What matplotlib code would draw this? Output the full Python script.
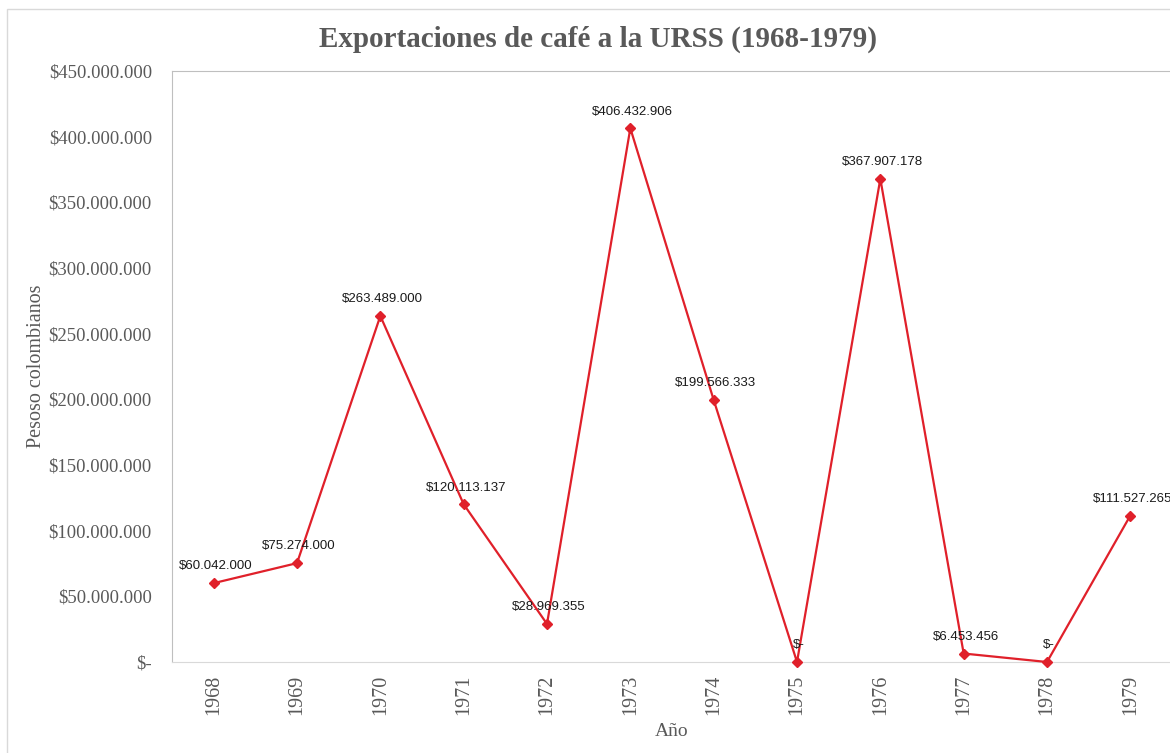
import matplotlib.pyplot as plt
from matplotlib.patches import Rectangle
from matplotlib.ticker import FuncFormatter

# datos
anios = ["1968", "1969", "1970", "1971", "1972", "1973",
         "1974", "1975", "1976", "1977", "1978", "1979"]
valores = [60042000, 75274000, 263489000, 120113137, 28969355, 406432906,
           199566333, 0, 367907178, 6453456, 0, 111527265]
ticks_y = [0, 50e6, 100e6, 150e6, 200e6, 250e6, 300e6, 350e6, 400e6, 450e6]

GRIS = "#595959"
ROJO = "#E0202A"


def formato_pesos(v, pos=None):
    if v == 0:
        return "$-"
    return "$" + f"{int(round(v)):,}".replace(",", ".")


fig = plt.figure(figsize=(11.7, 7.53), dpi=100)
ax = fig.add_axes([172 / 1170, 1 - 662 / 753, 1000 / 1170, (662 - 71) / 753])

# borde del area del grafico
fig.patches.append(Rectangle((7 / 1170, -0.1), 1.2, 1 - 9 / 753 + 0.1,
                             transform=fig.transFigure, fill=False,
                             edgecolor="#d9d9d9", linewidth=1))

x = list(range(len(anios)))
ax.plot(x, valores, color=ROJO, linewidth=1.6, marker="D", markersize=5,
        markerfacecolor=ROJO, markeredgecolor=ROJO, clip_on=False, zorder=3)

for xi, v in zip(x, valores):
    ax.annotate(formato_pesos(v), (xi, v), xytext=(1.5, 12), textcoords="offset points",
                ha="center", va="center", fontsize=9.5, color="#1a1a1a",
                family="Liberation Sans")

ax.set_xlim(-0.5, len(anios) - 0.5)
ax.set_ylim(0, 450e6)
ax.set_xticks(x)
ax.set_xticklabels(anios, rotation=90, fontsize=14.5, color=GRIS, family="Liberation Serif")
ax.set_yticks(ticks_y)
ax.yaxis.set_major_formatter(FuncFormatter(formato_pesos))
for lab in ax.get_yticklabels():
    lab.set_family("Liberation Serif")
    lab.set_fontsize(13.4)
    lab.set_color(GRIS)
ax.tick_params(axis="both", length=0, pad=9)
ax.tick_params(axis="y", pad=14.5)

for lado in ["top", "left"]:
    ax.spines[lado].set_color("#bfbfbf")
ax.spines["bottom"].set_color("#d9d9d9")
ax.spines["right"].set_visible(False)

ax.set_xlabel("Año", fontsize=14, color=GRIS, family="Liberation Serif", labelpad=6)
ax.set_ylabel("Pesoso colombianos", fontsize=14.5, color=GRIS, family="Liberation Serif")
ax.yaxis.set_label_coords(-126 / 1000, 0.5)

fig.text(598 / 1170, 1 - 39 / 753, "Exportaciones de café a la URSS (1968-1979)",
         ha="center", va="center", fontsize=21, fontweight="bold", color=GRIS,
         family="Liberation Serif")

fig.savefig("out.png", dpi=100)
